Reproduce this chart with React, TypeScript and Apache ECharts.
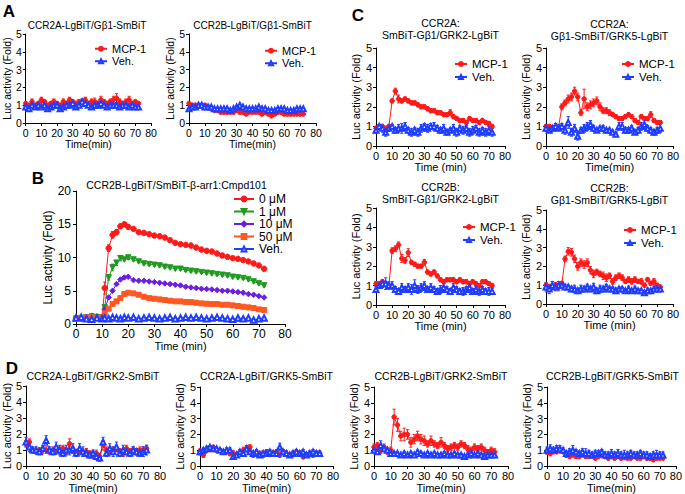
import React, { useEffect, useRef } from 'react';
import * as echarts from 'echarts';

const FONT = 'Liberation Sans, Arial, sans-serif';
const RED = '#ff1a1a';
const BLUE = '#1f3dff';

// time points (min)
const T = [0,2,4,6,8,10,12,14,16,18,20,22,24,26,28,30,32,34,36,38,40,42,44,46,48,50,52,54,56,58,60,62,64,66,68,70,72];
const TB = [0,2,4,6,8,10,11,12.5,14,15.5,17,18.5,20,22,24,26,28,30,32,34,36,38,40,42,44,46,48,50,52,54,56,58,60,62,64,66,68,70,72];

const X_TICKS = [0, 80, 10];

// Panel A
const A1_MCP1 = [1.1,1.0,1.2,1.0,1.1,1.3,1.2,1.0,1.1,1.2,1.1,1.0,1.2,1.1,1.3,1.2,1.1,1.2,1.2,1.3,1.1,1.2,1.2,1.1,1.3,1.2,1.1,1.2,1.3,1.4,1.2,1.1,1.2,1.3,1.1,1.2,1.1];
const A1_MCP1_E = [0.1,0.1,0.15,0.1,0.1,0.15,0.1,0.1,0.1,0.15,0.1,0.1,0.15,0.1,0.15,0.1,0.1,0.1,0.1,0.15,0.1,0.15,0.2,0.1,0.2,0.1,0.1,0.15,0.2,0.25,0.15,0.1,0.15,0.2,0.1,0.1,0.1];
const A1_VEH = [0.9,0.8,1.0,0.9,1.0,0.9,1.0,0.8,0.9,1.0,1.0,0.8,0.9,1.0,1.0,1.1,0.9,1.0,1.2,1.1,1.0,0.9,1.0,1.0,1.1,1.0,0.9,1.0,1.0,1.0,0.9,1.0,1.0,0.9,1.0,0.9,0.9];
const A1_VEH_E = [0.1,0.1,0.1,0.1,0.1,0.1,0.1,0.1,0.1,0.1,0.15,0.1,0.1,0.1,0.1,0.1,0.1,0.1,0.15,0.15,0.1,0.1,0.1,0.1,0.1,0.1,0.1,0.1,0.1,0.1,0.1,0.1,0.1,0.1,0.1,0.1,0.1];
const A2_MCP1 = [1.1,1.0,1.0,1.0,1.0,1.0,0.9,0.8,0.7,0.7,0.6,0.6,0.6,0.6,0.6,0.7,0.6,0.6,0.5,0.6,0.6,0.6,0.6,0.5,0.6,0.5,0.4,0.5,0.6,0.6,0.5,0.5,0.5,0.5,0.5,0.5,0.5];
const A2_VEH = [0.8,0.9,0.9,1.0,1.0,0.9,0.9,0.9,0.8,0.8,0.8,0.8,0.8,0.7,0.8,0.9,1.0,0.9,0.8,0.8,0.8,0.8,0.9,0.8,0.8,0.7,0.7,0.7,0.8,0.8,0.8,0.7,0.7,0.7,0.8,0.8,0.8];

// Panel B
const B_NAMES = ['0 μM', '1 μM', '10 μM', '50 μM', 'Veh.'];
const B_0 = [0.9,0.8,1.0,1.2,1.1,1.0,5.4,11.4,13.4,13.8,14.7,15.0,14.6,14.3,13.8,13.7,13.5,13.3,13.2,13.0,12.6,12.2,12.0,11.9,11.8,11.5,11.2,11.0,10.9,10.6,10.3,10.1,9.9,9.8,9.6,9.4,9.1,8.8,8.3];
const B_0_E = [0.1,0.1,0.1,0.2,0.2,0.1,0.9,0.5,0.5,0.4,0.3,0.2,0.3,0.2,0.2,0.2,0.2,0.2,0.2,0.2,0.2,0.2,0.2,0.2,0.2,0.2,0.2,0.2,0.2,0.2,0.2,0.2,0.2,0.2,0.2,0.2,0.2,0.2,0.2];
const B_1 = [0.8,0.9,1.0,1.1,1.0,1.0,2.5,7.0,8.5,9.2,9.9,9.7,10.0,9.7,9.4,9.1,9.0,8.9,8.8,8.6,8.5,8.3,8.3,8.1,8.0,7.9,7.8,7.7,7.6,7.5,7.4,7.3,7.1,7.0,6.9,6.7,6.4,6.1,5.8];
const B_1_E = [0.1,0.1,0.1,0.1,0.1,0.1,0.3,0.4,0.5,0.4,0.4,0.2,0.3,0.2,0.2,0.2,0.2,0.2,0.2,0.2,0.2,0.2,0.2,0.2,0.2,0.2,0.2,0.2,0.2,0.2,0.2,0.2,0.2,0.2,0.2,0.2,0.2,0.2,0.2];
const B_10 = [0.9,0.8,1.0,1.0,0.9,1.0,2.2,4.0,5.0,6.0,6.7,7.0,7.1,6.6,6.5,6.5,6.4,6.3,6.2,6.1,6.0,5.9,5.8,5.6,5.5,5.4,5.3,5.25,5.2,5.1,5.0,5.0,4.9,4.8,4.7,4.5,4.4,4.2,4.0];
const B_50 = [0.8,0.9,1.0,1.0,0.9,1.0,1.6,2.3,3.0,3.4,3.9,4.5,4.7,4.6,4.4,4.1,3.9,3.8,3.7,3.6,3.5,3.4,3.4,3.3,3.3,3.2,3.1,3.05,3.0,3.0,2.9,2.9,2.8,2.7,2.6,2.5,2.4,2.2,2.1];
const B_VEH = [0.9,1.0,0.8,0.7,0.9,0.8,0.9,0.8,1.0,0.9,0.8,1.0,0.9,1.0,0.8,0.9,1.0,0.9,0.8,0.9,1.0,0.8,0.9,1.0,0.9,1.0,0.9,0.8,0.9,1.0,0.9,0.8,0.7,0.9,0.8,0.9,0.6,0.8,0.9];

// Panel C
const C1_MCP1 = [0.9,1.0,1.0,0.9,1.0,2.3,2.8,2.4,2.3,2.4,2.3,2.2,2.2,2.1,2.0,2.0,1.9,1.8,1.8,1.7,1.7,1.6,1.6,1.7,1.5,1.4,1.3,1.3,1.2,1.4,1.3,1.3,1.2,1.3,1.2,1.15,1.0];
const C1_MCP1_E = [0.1,0.1,0.1,0.1,0.1,0.1,0.15,0.2,0.1,0.1,0.1,0.1,0.1,0.1,0.1,0.1,0.1,0.1,0.1,0.1,0.1,0.1,0.1,0.15,0.1,0.1,0.1,0.1,0.1,0.1,0.1,0.1,0.1,0.1,0.1,0.1,0.1];
const C1_VEH = [0.8,1.0,0.9,0.7,0.9,1.0,0.8,0.9,0.9,1.0,0.8,0.7,0.8,0.7,0.9,1.0,0.9,1.0,1.0,0.9,0.8,0.9,0.7,0.8,0.9,0.7,0.9,0.8,0.9,0.7,0.8,0.9,0.7,0.8,0.7,0.8,0.7];
const C1_VEH_E = [0.15,0.1,0.2,0.2,0.15,0.1,0.15,0.2,0.25,0.2,0.15,0.2,0.15,0.2,0.2,0.15,0.2,0.15,0.2,0.15,0.15,0.2,0.15,0.1,0.2,0.2,0.15,0.2,0.15,0.2,0.2,0.15,0.2,0.15,0.2,0.2,0.2];
const C2_MCP1 = [1.0,1.0,0.9,0.9,1.0,2.0,2.2,2.4,2.5,2.8,2.5,1.7,2.4,2.0,2.1,2.2,2.3,2.0,1.8,1.8,1.7,1.6,1.5,1.4,1.4,1.5,1.6,1.5,1.3,1.2,1.5,1.4,1.4,1.6,1.3,1.2,1.2];
const C2_MCP1_E = [0.1,0.1,0.1,0.1,0.1,0.15,0.15,0.2,0.2,0.2,0.2,0.15,0.5,0.2,0.2,0.2,0.2,0.2,0.15,0.15,0.15,0.1,0.1,0.1,0.1,0.1,0.1,0.1,0.1,0.1,0.1,0.1,0.1,0.15,0.1,0.1,0.1];
const C2_VEH = [0.9,0.8,0.9,1.0,0.9,1.0,0.8,1.2,0.7,0.9,0.5,0.8,0.9,1.0,1.1,0.9,0.8,0.9,0.9,0.8,0.8,0.7,0.6,1.0,1.0,0.8,0.8,0.9,0.7,0.8,1.0,1.1,0.9,0.8,0.7,0.8,0.9];
const C2_VEH_E = [0.15,0.1,0.15,0.15,0.1,0.15,0.2,0.3,0.2,0.2,0.2,0.15,0.2,0.2,0.2,0.15,0.1,0.1,0.15,0.1,0.1,0.1,0.1,0.2,0.2,0.15,0.15,0.15,0.1,0.15,0.2,0.2,0.15,0.15,0.15,0.15,0.2];
const C3_MCP1 = [1.1,1.1,1.2,1.1,1.0,2.8,2.9,3.1,2.4,2.3,2.7,2.2,2.1,2.0,2.0,2.2,1.7,1.6,1.7,1.5,1.3,1.2,1.3,1.3,1.3,1.2,1.3,1.2,1.2,1.1,1.2,1.1,1.0,1.2,1.2,1.1,1.0];
const C3_MCP1_E = [0.1,0.1,0.1,0.1,0.1,0.15,0.15,0.15,0.2,0.15,0.2,0.1,0.1,0.1,0.1,0.15,0.1,0.1,0.1,0.1,0.1,0.1,0.1,0.1,0.1,0.1,0.1,0.1,0.1,0.1,0.1,0.1,0.1,0.1,0.1,0.1,0.1];
const C3_VEH = [0.8,1.0,1.1,1.1,1.0,1.0,0.8,0.7,0.9,0.8,0.9,0.8,1.0,0.8,0.9,1.0,0.8,0.9,0.8,0.7,0.8,0.9,0.8,0.7,0.9,0.8,0.7,0.7,0.8,0.9,0.7,0.8,0.7,0.8,0.7,0.7,0.7];
const C3_VEH_E = [0.15,0.15,0.2,0.3,0.2,0.2,0.15,0.15,0.2,0.15,0.2,0.25,0.3,0.2,0.2,0.2,0.15,0.2,0.15,0.15,0.2,0.2,0.15,0.15,0.2,0.15,0.15,0.2,0.15,0.2,0.15,0.15,0.2,0.15,0.15,0.2,0.15];
const C4_MCP1 = [1.0,0.9,0.9,1.0,0.9,1.1,2.4,2.8,2.75,2.4,2.0,2.2,2.1,2.2,1.8,1.6,1.7,1.6,1.5,1.4,1.5,1.2,1.4,1.5,1.4,1.2,1.3,1.2,1.3,1.2,1.2,1.0,1.3,1.1,1.2,1.0,0.9];
const C4_MCP1_E = [0.15,0.1,0.1,0.15,0.2,0.1,0.15,0.2,0.2,0.2,0.2,0.2,0.2,0.2,0.2,0.2,0.15,0.15,0.2,0.2,0.15,0.15,0.15,0.15,0.15,0.1,0.15,0.15,0.15,0.1,0.15,0.1,0.1,0.1,0.15,0.1,0.1];
const C4_VEH = [0.9,0.8,1.0,0.9,1.0,1.0,0.9,0.9,0.8,0.8,0.7,0.8,0.8,0.9,0.8,0.9,0.7,0.8,0.8,0.9,0.8,0.8,0.7,0.8,0.8,0.7,0.8,0.7,0.8,0.7,0.7,0.6,0.7,0.7,0.8,0.8,0.8];
const C4_VEH_E = [0.2,0.25,0.2,0.2,0.2,0.15,0.15,0.1,0.15,0.2,0.15,0.2,0.15,0.15,0.15,0.2,0.15,0.2,0.15,0.15,0.15,0.1,0.15,0.1,0.1,0.1,0.15,0.1,0.15,0.1,0.1,0.1,0.15,0.1,0.15,0.15,0.15];

// Panel D
const D1_MCP1 = [1.4,1.5,1.0,0.9,1.0,1.0,1.0,0.9,1.0,0.9,1.0,1.1,0.9,1.4,1.0,0.9,1.0,0.8,0.9,0.8,0.7,0.8,0.6,1.3,1.0,0.9,1.0,1.1,0.9,0.8,1.1,0.9,1.0,0.9,1.0,1.0,1.1];
const D1_MCP1_E = [0.2,0.2,0.15,0.15,0.15,0.2,0.2,0.15,0.2,0.15,0.2,0.2,0.2,0.3,0.2,0.15,0.2,0.2,0.2,0.15,0.2,0.2,0.2,0.3,0.2,0.2,0.2,0.2,0.2,0.2,0.2,0.2,0.2,0.2,0.2,0.2,0.2];
const D1_VEH = [1.5,1.2,1.0,1.0,0.9,1.1,1.6,1.0,0.9,1.2,1.0,0.8,1.0,1.0,1.1,0.8,1.1,0.9,0.8,0.7,0.8,0.6,0.5,1.5,0.8,1.1,0.9,1.2,0.8,1.0,0.9,0.8,1.0,0.9,0.8,0.9,1.0];
const D1_VEH_E = [0.3,0.3,0.2,0.2,0.2,0.2,0.3,0.2,0.2,0.3,0.3,0.2,0.3,0.3,0.3,0.2,0.3,0.3,0.2,0.2,0.2,0.2,0.2,0.3,0.2,0.3,0.3,0.3,0.2,0.3,0.2,0.2,0.2,0.2,0.2,0.3,0.3];
const D2_MCP1 = [0.9,0.7,1.0,1.1,1.2,1.0,1.0,0.9,0.9,0.8,0.8,0.7,0.9,1.0,1.1,1.2,0.7,0.8,0.8,0.7,0.9,0.8,0.8,0.9,0.7,0.9,0.8,0.7,0.8,0.9,0.8,0.6,0.7,0.8,0.7,0.8,0.8];
const D2_MCP1_E = [0.2,0.15,0.1,0.1,0.1,0.1,0.1,0.1,0.1,0.15,0.2,0.15,0.15,0.2,0.2,0.15,0.15,0.15,0.15,0.15,0.15,0.2,0.15,0.15,0.15,0.15,0.15,0.15,0.15,0.15,0.15,0.15,0.15,0.15,0.15,0.15,0.15];
const D2_VEH = [0.9,1.0,1.1,1.2,1.1,1.1,1.0,0.9,1.0,1.0,0.6,0.7,0.9,0.8,1.1,0.9,0.8,0.9,0.7,0.8,0.8,0.9,0.8,0.8,1.2,0.9,0.8,0.7,0.8,0.9,0.8,0.9,0.7,0.8,0.9,0.8,0.8];
const D2_VEH_E = [0.15,0.15,0.15,0.1,0.1,0.1,0.1,0.15,0.15,0.15,0.15,0.15,0.15,0.15,0.2,0.15,0.15,0.15,0.15,0.15,0.15,0.15,0.15,0.15,0.25,0.15,0.15,0.15,0.15,0.15,0.15,0.15,0.15,0.15,0.15,0.15,0.15];
const D3_MCP1 = [1.2,1.3,1.0,1.2,0.9,1.0,3.1,2.6,1.9,2.0,2.0,1.5,1.7,1.9,1.7,1.6,1.4,1.6,1.4,1.3,1.5,1.3,1.1,1.2,1.3,1.2,1.4,1.3,1.1,1.0,1.2,1.1,1.2,1.0,0.9,1.0,0.9];
const D3_MCP1_E = [0.2,0.2,0.2,0.2,0.15,0.2,0.5,0.4,0.3,0.4,0.3,0.3,0.3,0.3,0.3,0.3,0.2,0.3,0.2,0.2,0.3,0.2,0.2,0.2,0.2,0.2,0.2,0.2,0.2,0.2,0.2,0.2,0.2,0.2,0.15,0.2,0.2];
const D3_VEH = [1.0,0.9,1.3,1.1,1.0,0.8,0.8,0.8,0.7,0.8,0.7,0.8,0.7,0.9,0.8,0.7,0.8,0.7,0.8,0.7,0.7,0.8,0.7,0.7,0.8,0.7,0.7,0.6,0.7,0.8,0.7,0.8,0.7,0.6,0.7,0.7,0.7];
const D3_VEH_E = [0.15,0.15,0.3,0.2,0.15,0.1,0.1,0.1,0.1,0.1,0.1,0.1,0.1,0.1,0.1,0.1,0.1,0.1,0.1,0.1,0.1,0.1,0.1,0.1,0.1,0.1,0.1,0.1,0.1,0.1,0.1,0.1,0.1,0.1,0.1,0.1,0.1];
const D4_MCP1 = [0.9,0.8,0.9,0.9,1.0,0.9,0.7,0.6,0.7,0.6,0.6,0.7,0.6,0.6,0.7,0.5,0.6,0.7,0.6,0.5,0.6,0.5,0.6,0.5,0.6,0.5,0.5,0.6,0.5,0.5,0.6,0.5,0.5,0.4,0.5,0.5,0.5];
const D4_MCP1_E = [0.15,0.15,0.1,0.1,0.1,0.1,0.15,0.1,0.1,0.1,0.1,0.1,0.1,0.1,0.1,0.1,0.1,0.1,0.1,0.1,0.1,0.1,0.1,0.1,0.1,0.1,0.1,0.1,0.1,0.1,0.1,0.1,0.1,0.1,0.1,0.1,0.1];
const D4_VEH = [1.0,1.1,1.0,1.1,1.1,1.0,0.8,0.9,1.0,0.9,0.8,0.9,0.8,0.8,0.7,0.8,0.8,0.9,0.7,0.7,0.8,0.7,0.8,0.7,0.7,0.7,0.8,0.7,0.7,0.8,0.7,0.7,0.6,0.7,0.7,0.7,0.7];
const D4_VEH_E = [0.2,0.25,0.2,0.2,0.2,0.15,0.15,0.2,0.3,0.15,0.15,0.2,0.3,0.2,0.2,0.2,0.2,0.15,0.2,0.2,0.25,0.2,0.25,0.2,0.3,0.2,0.2,0.2,0.2,0.2,0.2,0.2,0.2,0.2,0.3,0.2,0.2];

type Panel = {
  title: string;
  titleY: number;
  grid: [number, number, number, number];
  red: number[];
  redE?: number[];
  blue: number[];
  blueE?: number[];
  xName: string;
  fs: number;
  nameFs: number;
  legend?: [number, number];
};

const PANELS: Panel[] = [
  { title: 'CCR2A-LgBiT/Gβ1-SmBiT', titleY: 25, grid: [23, 34, 128, 89], red: A1_MCP1, redE: A1_MCP1_E, blue: A1_VEH, blueE: A1_VEH_E, xName: 'Time(min)', fs: 10.5, nameFs: 10.5, legend: [94, 43] },
  { title: 'CCR2B-LgBiT/Gβ1-SmBiT', titleY: 25, grid: [189, 34, 127, 89], red: A2_MCP1, blue: A2_VEH, xName: 'Time(min)', fs: 10.5, nameFs: 10.5, legend: [264, 45] },
  { title: 'CCR2A:\nSmBiT-Gβ1/GRK2-LgBiT', titleY: 29, grid: [376, 48, 129, 98], red: C1_MCP1, redE: C1_MCP1_E, blue: C1_VEH, blueE: C1_VEH_E, xName: 'Time (min)', fs: 11, nameFs: 11, legend: [454, 58] },
  { title: 'CCR2A:\nGβ1-SmBiT/GRK5-LgBiT', titleY: 30, grid: [546, 48, 127, 98], red: C2_MCP1, redE: C2_MCP1_E, blue: C2_VEH, blueE: C2_VEH_E, xName: 'Time(min)', fs: 11, nameFs: 11, legend: [621, 58] },
  { title: 'CCR2B:\nSmBiT-Gβ1/GRK2-LgBiT', titleY: 193, grid: [376, 208, 129, 97], red: C3_MCP1, redE: C3_MCP1_E, blue: C3_VEH, blueE: C3_VEH_E, xName: 'Time (min)', fs: 11, nameFs: 11, legend: [462, 221] },
  { title: 'CCR2B:\nGβ1-SmBiT/GRK5-LgBiT', titleY: 194, grid: [546, 210, 127, 94], red: C4_MCP1, redE: C4_MCP1_E, blue: C4_VEH, blueE: C4_VEH_E, xName: 'Time (min)', fs: 11, nameFs: 11, legend: [623, 224] },
  { title: 'CCR2A-LgBiT/GRK2-SmBiT', titleY: 376, grid: [26, 386, 134, 81], red: D1_MCP1, redE: D1_MCP1_E, blue: D1_VEH, blueE: D1_VEH_E, xName: 'Time(min)', fs: 11, nameFs: 11 },
  { title: 'CCR2A-LgBiT/GRK5-SmBiT', titleY: 376, grid: [200, 387, 133, 82], red: D2_MCP1, redE: D2_MCP1_E, blue: D2_VEH, blueE: D2_VEH_E, xName: 'Time(min)', fs: 11, nameFs: 11 },
  { title: 'CCR2B-LgBiT/GRK2-SmBiT', titleY: 376, grid: [374, 387, 134, 80], red: D3_MCP1, redE: D3_MCP1_E, blue: D3_VEH, blueE: D3_VEH_E, xName: 'Time(min)', fs: 11, nameFs: 11 },
  { title: 'CCR2B-LgBiT/GRK5-SmBiT', titleY: 376, grid: [547, 387, 131, 80], red: D4_MCP1, redE: D4_MCP1_E, blue: D4_VEH, blueE: D4_VEH_E, xName: 'Time(min)', fs: 11, nameFs: 11 },
];

const B_GRID: [number, number, number, number] = [76, 191, 209, 133];

function xAxis(gi: number, name: string, fs: number, nameFs: number, nameGap: number) {
  return {
    type: 'value', gridIndex: gi, min: X_TICKS[0], max: X_TICKS[1], interval: X_TICKS[2],
    name, nameLocation: 'middle', nameGap,
    nameTextStyle: { color: '#000', fontSize: nameFs, fontFamily: FONT },
    axisLine: { show: true, onZero: false, lineStyle: { color: '#000', width: 1 } },
    axisTick: { show: true, length: 3, lineStyle: { color: '#000', width: 1 } },
    axisLabel: { color: '#000', fontSize: fs, margin: 4, fontFamily: FONT },
    splitLine: { show: false },
  };
}

function yAxis(gi: number, max: number, interval: number, fs: number, nameFs: number, nameGap: number, margin: number) {
  return {
    type: 'value', gridIndex: gi, min: 0, max, interval,
    name: 'Luc activity (Fold)', nameLocation: 'middle', nameGap,
    nameTextStyle: { color: '#000', fontSize: nameFs, fontFamily: FONT },
    axisLine: { show: true, onZero: false, lineStyle: { color: '#000', width: 1 } },
    axisTick: { show: true, length: 3, lineStyle: { color: '#000', width: 1 } },
    axisLabel: { color: '#000', fontSize: fs, margin, fontFamily: FONT },
    splitLine: { show: false },
  };
}

function lineSeries(name: string, gi: number, times: number[], vals: number[], color: string, symbol: string, size: number, rotate = 0) {
  return {
    type: 'line', name, xAxisIndex: gi, yAxisIndex: gi,
    data: times.map((t, i) => [t, vals[i]]),
    symbol, symbolSize: size, symbolRotate: rotate,
    itemStyle: { color, borderColor: color, borderWidth: 1 },
    lineStyle: { color, width: 1 },
    emphasis: { disabled: true },
    z: 3,
  };
}

function errSeries(name: string, gi: number, times: number[], vals: number[], errs: number[], color: string) {
  return {
    type: 'custom', name, xAxisIndex: gi, yAxisIndex: gi,
    coordinateSystem: 'cartesian2d',
    data: times.map((t, i) => [t, vals[i], errs[i]]),
    encode: { x: 0, y: 1 },
    silent: true,
    z: 2,
    renderItem: (_params: any, api: any) => {
      const x = api.value(0);
      const y = api.value(1);
      const e = api.value(2);
      const top = api.coord([x, y + e]);
      const bot = api.coord([x, Math.max(0, y - e)]);
      const hw = 1.6;
      const st = { stroke: color, lineWidth: 1 };
      return {
        type: 'group',
        children: [
          { type: 'line', shape: { x1: top[0], y1: top[1], x2: bot[0], y2: bot[1] }, style: st },
          { type: 'line', shape: { x1: top[0] - hw, y1: top[1], x2: top[0] + hw, y2: top[1] }, style: st },
          { type: 'line', shape: { x1: bot[0] - hw, y1: bot[1], x2: bot[0] + hw, y2: bot[1] }, style: st },
        ],
      };
    },
  };
}

function txt(x: number, y: number, text: string, font: string, lineHeight?: number) {
  return {
    type: 'text', x, y, silent: true,
    style: {
      text, font, fill: '#000',
      align: 'center', textAlign: 'center',
      verticalAlign: 'middle', textVerticalAlign: 'middle',
      lineHeight,
    },
  };
}

function buildOption() {
  const grid: any[] = [];
  const xAxes: any[] = [];
  const yAxes: any[] = [];
  const series: any[] = [];
  const errs: any[] = [];
  const legend: any[] = [];
  const graphic: any[] = [];

  PANELS.forEach((p, gi) => {
    const [l, t, w, h] = p.grid;
    grid.push({ left: l, top: t, width: w, height: h, containLabel: false });
    xAxes.push(xAxis(gi, p.xName, p.fs, p.nameFs, 15));
    yAxes.push(yAxis(gi, 5, 1, p.fs, p.nameFs, 9, 4));
    series.push(lineSeries('MCP-1', gi, T, p.red, RED, 'circle', 4.5));
    series.push(lineSeries('Veh.', gi, T, p.blue, BLUE, 'emptyTriangle', 5));
    if (p.redE) errs.push(errSeries('MCP-1 SEM', gi, T, p.red, p.redE, RED));
    if (p.blueE) errs.push(errSeries('Veh. SEM', gi, T, p.blue, p.blueE, BLUE));
    if (p.legend) {
      legend.push({
        left: p.legend[0], top: p.legend[1], orient: 'vertical', padding: 0,
        itemWidth: 12, itemHeight: 5, itemGap: 1, selectedMode: false,
        data: ['MCP-1', 'Veh.'],
        textStyle: { fontSize: p.fs + 0.5, lineHeight: 11.5, color: '#000', fontFamily: FONT },
      });
    }
    graphic.push(txt(l + w / 2, p.titleY, p.title, `${p.fs - 0.5}px ${FONT}`, 11.5));
  });

  // Panel B
  const bi = PANELS.length;
  const [bl, bt, bw, bh] = B_GRID;
  grid.push({ left: bl, top: bt, width: bw, height: bh });
  xAxes.push(xAxis(bi, 'Time (min)', 12, 11, 16));
  yAxes.push(yAxis(bi, 20, 5, 12, 12, 22, 5));
  const bColors = ['#ff1a1a', '#1f9a1f', '#6a1fe0', '#ff5722', BLUE];
  const bSymbols = ['circle', 'triangle', 'diamond', 'rect', 'emptyTriangle'];
  const bRot = [0, 180, 0, 0, 0];
  const bVals = [B_0, B_1, B_10, B_50, B_VEH];
  B_NAMES.forEach((n, k) => {
    series.push(lineSeries(n, bi, TB, bVals[k], bColors[k], bSymbols[k], k === 3 ? 5 : 5.5, bRot[k]));
  });
  errs.push(errSeries('0 μM SEM', bi, TB, B_0, B_0_E, bColors[0]));
  errs.push(errSeries('1 μM SEM', bi, TB, B_1, B_1_E, bColors[1]));
  legend.push({
    left: 233, top: 193, orient: 'vertical', padding: 0,
    itemWidth: 20, itemHeight: 6, itemGap: 0.5, selectedMode: false,
    data: B_NAMES.map((n) => ({ name: n })),
    textStyle: { fontSize: 12, lineHeight: 12, color: '#000', fontFamily: FONT },
  });
  graphic.push(txt(bl + bw / 2 - 4, 185, 'CCR2B-LgBiT/SmBiT-β-arr1:Cmpd101', `10.5px ${FONT}`));

  // panel letters
  graphic.push(txt(9, 11, 'A', `bold 17px ${FONT}`));
  graphic.push(txt(38, 178, 'B', `bold 17px ${FONT}`));
  graphic.push(txt(358, 15, 'C', `bold 17px ${FONT}`));
  graphic.push(txt(12, 368, 'D', `bold 17px ${FONT}`));

  return {
    animation: false,
    backgroundColor: '#fff',
    textStyle: { fontFamily: FONT },
    grid, xAxis: xAxes, yAxis: yAxes, series: [...series, ...errs], legend, graphic,
  };
}

export default function App() {
  const ref = useRef<HTMLDivElement>(null);
  useEffect(() => {
    if (!ref.current) return;
    const chart = echarts.init(ref.current, null, { renderer: 'svg', width: 685, height: 494 });
    chart.setOption(buildOption() as any);
    return () => chart.dispose();
  }, []);
  return (
    <div
      ref={ref}
      style={{ position: 'absolute', left: 0, top: 0, width: 685, height: 494, background: '#fff' }}
    />
  );
}
